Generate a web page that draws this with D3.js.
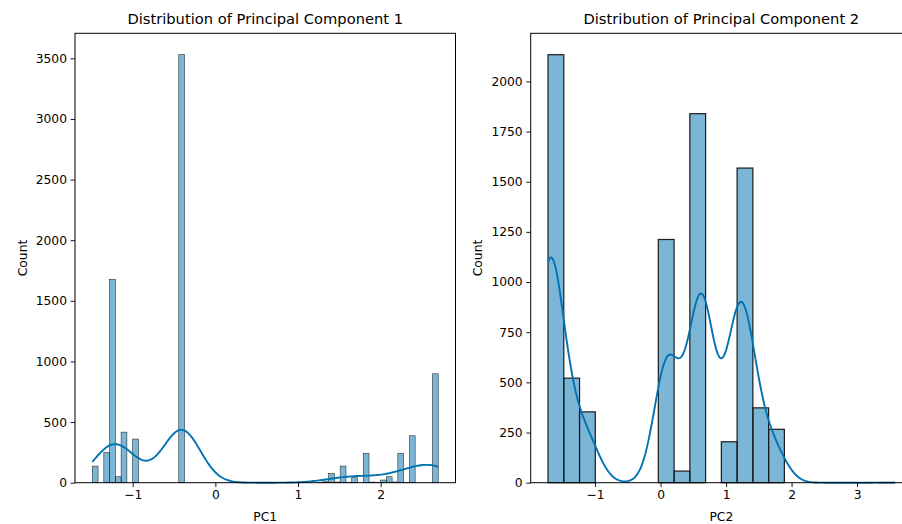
<!DOCTYPE html>
<html>
<head>
<meta charset="utf-8">
<script src="https://cdn.jsdelivr.net/npm/d3@7"></script>
<style>
  body { margin: 0; background: #fff; }
  svg { display: block; font-family: "DejaVu Sans", sans-serif; }
  .tick text { font-size: 12.3px; fill: #000; }
  .title { font-size: 14.7px; }
  .label { font-size: 12.3px; }
</style>
</head>
<body>
<div id="chart"></div>
<script>
// histogram of PC1: 60 bins from pc1Range[0] to pc1Range[1]
var pc1Range = [-1.489, 2.696];
var pc1Counts = [
  137, 0, 250, 1677, 49, 417, 0, 360, 0, 0,
  0, 0, 0, 0, 0, 3530, 0, 0, 0, 0,
  0, 0, 0, 0, 0, 0, 0, 0, 0, 0,
  0, 0, 0, 0, 0, 0, 0, 0, 0, 3,
  8, 77, 6, 137, 4, 41, 0, 242, 5, 4,
  22, 49, 6, 242, 3, 387, 0, 0, 0, 898
];
var pc1Ticks = [-1, 0, 1, 2];
var pc1YTicks = [0, 500, 1000, 1500, 2000, 2500, 3000, 3500];

// PC2 takes a few discrete values; histogram uses 22 bins over the range
var pc2Range = [-1.718, 3.574];
var pc2Bins = 22;
var pc2Values = [-1.70, -1.40, -1.10, 0.10, 0.35, 0.62, 1.00, 1.22, 1.48, 1.75, 3.57];
var pc2ValueCounts = [2133, 521, 353, 1212, 58, 1839, 204, 1568, 373, 266, 1];
var pc2Ticks = [-1, 0, 1, 2, 3];
var pc2YTicks = [0, 250, 500, 750, 1000, 1250, 1500, 1750, 2000];

var width = 902;
var height = 524;
var plotTop = 33.3;
var plotBottom = 482.7;
var lineColor = "#0173b2";
var barFill = "rgba(1,115,178,0.52)";

var svg = d3.select("#chart").append("svg")
  .attr("width", width)
  .attr("height", height);

function minusFmt(d) {
  return d < 0 ? "\u2212" + Math.abs(d) : String(d);
}

// points: [{x, c}] weighted sample; gaussian kde with scott bandwidth, scaled to bin counts
function kde(range, points, binW) {
  var n = d3.sum(points, function(p) { return p.c; });
  var mean = d3.sum(points, function(p) { return p.c * p.x; }) / n;
  var variance = d3.sum(points, function(p) {
    return p.c * (p.x - mean) * (p.x - mean);
  }) / (n - 1);
  var h = Math.sqrt(variance) * Math.pow(n, -0.2);
  var pts = [];
  for (var k = 0; k <= 200; k++) {
    var x = range[0] + (range[1] - range[0]) * k / 200;
    var dens = 0;
    points.forEach(function(p) {
      var z = (x - p.x) / h;
      dens += p.c * Math.exp(-0.5 * z * z);
    });
    dens = dens / (h * Math.sqrt(2 * Math.PI));
    pts.push([x, dens * binW]);
  }
  return pts;
}

function panel(opts) {
  var range = opts.range;
  var counts = opts.counts;
  var span = range[1] - range[0];
  var binW = span / counts.length;

  var x = d3.scaleLinear()
    .domain([range[0] - 0.05 * span, range[1] + 0.05 * span])
    .range([opts.left, opts.right]);

  var y = d3.scaleLinear()
    .domain([0, d3.max(counts) * 1.05])
    .range([plotBottom, plotTop]);

  var g = svg.append("g");

  var bins = counts.map(function(c, i) {
    return { x0: range[0] + i * binW, x1: range[0] + (i + 1) * binW, c: c };
  }).filter(function(d) { return d.c > 0; });

  g.selectAll("rect.bar")
    .data(bins)
    .enter().append("rect")
      .attr("class", "bar")
      .attr("x", function(d) { return x(d.x0); })
      .attr("width", function(d) { return x(d.x1) - x(d.x0); })
      .attr("y", function(d) { return y(d.c); })
      .attr("height", function(d) { return plotBottom - y(d.c); })
      .attr("fill", barFill)
      .attr("stroke", opts.edge)
      .attr("stroke-width", opts.edgeWidth);

  var line = d3.line()
    .x(function(d) { return x(d[0]); })
    .y(function(d) { return y(d[1]); });

  g.append("path")
    .datum(kde(range, opts.points, binW))
    .attr("fill", "none")
    .attr("stroke", lineColor)
    .attr("stroke-width", 1.9)
    .attr("d", line);

  // frame
  g.append("rect")
    .attr("x", opts.left)
    .attr("y", plotTop)
    .attr("width", opts.right - opts.left)
    .attr("height", plotBottom - plotTop)
    .attr("fill", "none")
    .attr("stroke", "#000")
    .attr("stroke-width", 1);

  var xAxis = g.append("g")
    .attr("transform", "translate(0," + plotBottom + ")")
    .call(d3.axisBottom(x).tickValues(opts.xTicks).tickFormat(minusFmt)
      .tickSize(4.4).tickPadding(3.6));
  xAxis.select(".domain").remove();

  var yAxis = g.append("g")
    .attr("transform", "translate(" + opts.left + ",0)")
    .call(d3.axisLeft(y).tickValues(opts.yTicks).tickFormat(d3.format("d"))
      .tickSize(4.4).tickPadding(3.6));
  yAxis.select(".domain").remove();

  g.selectAll(".tick text").attr("font-family", "DejaVu Sans, sans-serif");
  g.selectAll(".tick line").attr("stroke", "#000").attr("stroke-width", 0.9);

  var ax = (opts.left + opts.right) / 2;

  g.append("text")
    .attr("class", "title")
    .attr("x", ax)
    .attr("y", 24)
    .attr("text-anchor", "middle")
    .text(opts.title);

  g.append("text")
    .attr("class", "label")
    .attr("x", ax)
    .attr("y", 521)
    .attr("text-anchor", "middle")
    .text(opts.xLabel);

  g.append("text")
    .attr("class", "label")
    .attr("transform", "translate(" + opts.yLabelX + "," + (plotTop + plotBottom) / 2 + ") rotate(-90)")
    .attr("text-anchor", "middle")
    .text("Count");
}

// PC1: sample represented by bin centres
var pc1W = (pc1Range[1] - pc1Range[0]) / pc1Counts.length;
var pc1Points = pc1Counts.map(function(c, i) {
  return { x: pc1Range[0] + (i + 0.5) * pc1W, c: c };
}).filter(function(p) { return p.c > 0; });

// PC2: bin the discrete values
var pc2W = (pc2Range[1] - pc2Range[0]) / pc2Bins;
var pc2Counts = d3.range(pc2Bins).map(function() { return 0; });
pc2Values.forEach(function(v, i) {
  var b = Math.min(pc2Bins - 1, Math.floor((v - pc2Range[0]) / pc2W));
  pc2Counts[b] += pc2ValueCounts[i];
});
var pc2Points = pc2Values.map(function(v, i) { return { x: v, c: pc2ValueCounts[i] }; });

panel({
  range: pc1Range,
  counts: pc1Counts,
  points: pc1Points,
  left: 75,
  right: 455.5,
  xTicks: pc1Ticks,
  yTicks: pc1YTicks,
  edge: "#222",
  edgeWidth: 0.55,
  title: "Distribution of Principal Component 1",
  xLabel: "PC1",
  yLabelX: 27
});

panel({
  range: pc2Range,
  counts: pc2Counts,
  points: pc2Points,
  left: 530.7,
  right: 912,
  xTicks: pc2Ticks,
  yTicks: pc2YTicks,
  edge: "#1a1a1a",
  edgeWidth: 1.2,
  title: "Distribution of Principal Component 2",
  xLabel: "PC2",
  yLabelX: 482
});
</script>
</body>
</html>
